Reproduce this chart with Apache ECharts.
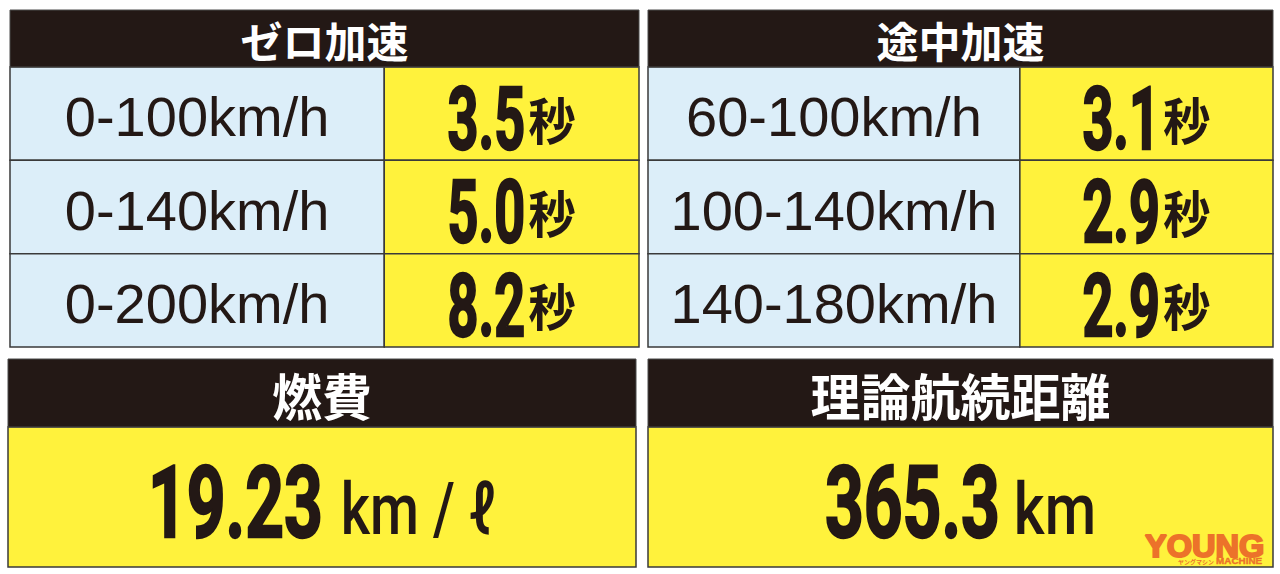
<!DOCTYPE html>
<html>
<head>
<meta charset="utf-8">
<script src="https://cdn.jsdelivr.net/npm/echarts@6/dist/echarts.min.js"></script>
<style>
html,body{margin:0;padding:0;background:#fff;}
#c{width:1280px;height:574px;}
</style>
</head>
<body>
<div id="c"></div>
<script>
// ---- data ----
const headerTitles = ['ゼロ加速', '途中加速', '燃費', '理論航続距離'];
const zeroLabels = ['0-100km/h', '0-140km/h', '0-200km/h'];
const zeroTimes = [3.5, 5.0, 8.2];
const midLabels = ['60-100km/h', '100-140km/h', '140-180km/h'];
const midTimes = [3.1, 2.9, 2.9];
const timeUnit = '秒';
const fuelLabel = ['燃費'];
const fuelValues = [19.23];
const fuelUnit = 'km / ℓ';
const rangeLabel = ['理論航続距離'];
const rangeValues = [365.3];
const rangeUnit = 'km';
const logoMain = 'YOUNG';
const logoKana = 'ヤングマシン';
const logoSub = 'MACHINE';

// ---- style ----
const DARK = '#231815';
const BLUE = '#dceef9';
const YELLOW = '#fff23c';
const LINE = '#3a3a3a';
const ORANGE = '#ec722a';
const NUM_FONT = 'Roboto, "Liberation Sans", sans-serif';
const LBL_FONT = '"Liberation Sans", Arial, sans-serif';
const CJK_FONT = '"Noto Sans CJK JP", sans-serif';
const SPLIT = 0.595;

const mctx = document.createElement('canvas').getContext('2d');
function measure(text, font) { mctx.font = font; return mctx.measureText(text).width; }

function numUnitGroup(cx, cy, num, numSize, sx, unit, unitSize, unitFont, unitWeight, unitSx, gap, unitDy) {
  const wn = measure(num, 'bold ' + numSize + 'px ' + NUM_FONT) * sx;
  const wu = measure(unit, unitWeight + ' ' + unitSize + 'px ' + unitFont) * unitSx;
  const total = wn + gap + wu;
  const x0 = cx - total / 2;
  return [
    { type: 'text', x: x0, y: cy, scaleX: sx,
      style: { x: 0, y: 0, text: num, fill: DARK, stroke: DARK, lineWidth: 2.4,
               font: 'bold ' + numSize + 'px ' + NUM_FONT, align: 'left', verticalAlign: 'middle' } },
    { type: 'text', x: x0 + wn + gap, y: cy + unitDy, scaleX: unitSx,
      style: { x: 0, y: 0, text: unit, fill: DARK, font: unitWeight + ' ' + unitSize + 'px ' + unitFont,
               align: 'left', verticalAlign: 'middle' } }
  ];
}

function tableSeries(gi, labels, times) {
  return {
    type: 'custom', coordinateSystem: 'cartesian2d', xAxisIndex: gi, yAxisIndex: gi,
    data: labels.map((l, i) => [0, i]),
    encode: { x: 0, y: 1 },
    silent: true,
    renderItem: function (params, api) {
      const yi = api.value(1);
      const p = api.coord([0, yi]);
      const xR = api.coord([1, yi])[0];
      const h = api.size([0, 1])[1];
      const xL = p[0], yC = p[1], yT = yC - h / 2;
      const xM = xL + (xR - xL) * SPLIT;
      const i = params.dataIndex;
      const children = [
        { type: 'rect', shape: { x: xL, y: yT, width: xM - xL, height: h },
          style: { fill: BLUE, stroke: LINE, lineWidth: 1.5 } },
        { type: 'rect', shape: { x: xM, y: yT, width: xR - xM, height: h },
          style: { fill: YELLOW, stroke: LINE, lineWidth: 1.5 } },
        { type: 'text', style: { x: (xL + xM) / 2, y: yC + 3, text: labels[i], fill: DARK,
          font: 'normal 56px ' + LBL_FONT, align: 'center', verticalAlign: 'middle' } }
      ];
      return { type: 'group', children: children.concat(
        numUnitGroup((xM + xR) / 2, yC + 6, times[i].toFixed(1), 87, 0.62, timeUnit, 50, CJK_FONT, 'bold', 0.95, 3, -2)) };
    }
  };
}

function bigSeries(gi, values, decimals, unit, unitScale, gap) {
  return {
    type: 'custom', coordinateSystem: 'cartesian2d', xAxisIndex: gi, yAxisIndex: gi,
    data: values.map((v, i) => [0, i]),
    encode: { x: 0, y: 1 },
    silent: true,
    renderItem: function (params, api) {
      const yi = api.value(1);
      const p = api.coord([0, yi]);
      const xR = api.coord([1, yi])[0];
      const h = api.size([0, 1])[1];
      const xL = p[0], yC = p[1], yT = yC - h / 2;
      const v = values[params.dataIndex];
      return { type: 'group', children: [
        { type: 'rect', shape: { x: xL, y: yT, width: xR - xL, height: h },
          style: { fill: YELLOW, stroke: LINE, lineWidth: 1.5 } }
      ].concat(numUnitGroup((xL + xR) / 2, yC + 5, v.toFixed(decimals), 101, 0.67, unit, 72, NUM_FONT, '500', unitScale, gap, 7)) };
    }
  };
}

const grids = [
  { left: 10, top: 67, width: 629, height: 280 },
  { left: 648, top: 67, width: 625, height: 280 },
  { left: 8, top: 427, width: 628, height: 140 },
  { left: 648, top: 427, width: 625, height: 140 }
];
const catData = [zeroLabels, midLabels, fuelLabel, rangeLabel];

const headers = [
  { x: 10, y: 10, w: 629, h: 57, size: 42 },
  { x: 648, y: 10, w: 625, h: 57, size: 42 },
  { x: 8, y: 359, w: 628, h: 68, size: 50 },
  { x: 648, y: 359, w: 625, h: 68, size: 50 }
];

const graphic = [];
headers.forEach((hd, i) => {
  graphic.push({ type: 'rect', shape: { x: hd.x, y: hd.y, width: hd.w, height: hd.h },
    style: { fill: DARK, stroke: '#4a4a4a', lineWidth: 1 }, z: 10 });
  graphic.push({ type: 'text', x: hd.x + hd.w / 2, y: hd.y + hd.h / 2 + 1, z: 11,
    style: { text: headerTitles[i], fill: '#ffffff', font: 'bold ' + hd.size + 'px ' + CJK_FONT,
      align: 'center', verticalAlign: 'middle' } });
});
// logo
graphic.push({ type: 'text', x: 1145, y: 546, scaleX: 1.05, z: 20,
  style: { text: logoMain, fill: ORANGE, stroke: ORANGE, lineWidth: 2, font: '900 31px "Liberation Sans", Arial, sans-serif',
    align: 'left', verticalAlign: 'middle' } });
graphic.push({ type: 'text', x: 1178, y: 561, scaleX: 1, z: 20,
  style: { text: logoKana, fill: ORANGE, font: 'bold 6px ' + CJK_FONT, align: 'left', verticalAlign: 'middle' } });
graphic.push({ type: 'text', x: 1216, y: 561, scaleX: 1.1, z: 20,
  style: { text: logoSub, fill: ORANGE, stroke: ORANGE, lineWidth: 0.4, font: '900 9px "Liberation Sans", Arial, sans-serif',
    align: 'left', verticalAlign: 'middle' } });

const option = {
  backgroundColor: '#ffffff',
  animation: false,
  grid: grids,
  xAxis: grids.map((g, i) => ({ type: 'value', gridIndex: i, min: 0, max: 1, show: false })),
  yAxis: grids.map((g, i) => ({ type: 'category', gridIndex: i, data: catData[i], inverse: true, show: false })),
  series: [
    tableSeries(0, zeroLabels, zeroTimes),
    tableSeries(1, midLabels, midTimes),
    bigSeries(2, fuelValues, 2, fuelUnit, 0.78, 18),
    bigSeries(3, rangeValues, 1, rangeUnit, 0.82, 14)
  ],
  graphic: graphic
};

const chart = echarts.init(document.getElementById('c'), null, { renderer: 'svg' });
chart.setOption(option);
</script>
</body>
</html>
